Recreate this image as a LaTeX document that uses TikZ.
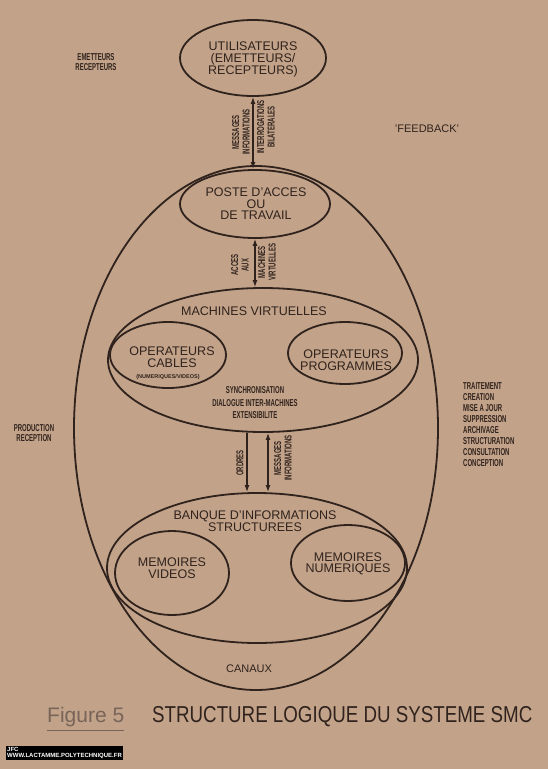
\documentclass[tikz,border=0pt]{standalone}
\usepackage{fontspec}
\setmainfont{Liberation Sans}
\usetikzlibrary{shapes.geometric,arrows.meta,calc}
\definecolor{bg}{RGB}{194,163,138}
\definecolor{ink}{RGB}{48,34,28}
\definecolor{fig}{RGB}{120,100,88}
\newcommand{\cnd}[2][0.6]{\scalebox{#1}[1]{\bfseries #2}}
\begin{document}
\begin{tikzpicture}[x=1pt,y=-1pt,
  >={Latex[length=7pt,width=5pt]},
  oval/.style={ellipse, draw=ink, line width=1.8pt, inner sep=0pt},
  lbl/.style={text=ink, font=\fontsize{12.5}{11.5}\selectfont, align=center, inner sep=0pt},
  cond/.style={text=ink, font=\fontsize{10}{10.5}\selectfont, align=center, inner sep=0pt},
  vcond/.style={cond, rotate=90},
  conn/.style={draw=ink, line width=1.5pt}
]
\fill[bg] (0,0) rectangle (548,769);
\useasboundingbox (0,0) rectangle (548,769);

% ellipses
\node[oval, minimum width=146pt, minimum height=76pt] (util) at (253,58) {};
\node[oval, minimum width=364pt, minimum height=524pt] (outer) at (256,428) {};
\node[oval, minimum width=150pt, minimum height=68pt] (poste) at (255,204) {};
\node[oval, minimum width=310pt, minimum height=144pt] (mach) at (263,360) {};
\node[oval, minimum width=116pt, minimum height=66pt] (opc) at (168,355) {};
\node[oval, minimum width=114pt, minimum height=62pt] (opp) at (345,353) {};
\node[oval, minimum width=300pt, minimum height=150pt] (banq) at (257,568) {};
\node[oval, minimum width=114pt, minimum height=84pt] (memv) at (172,573) {};
\node[oval, minimum width=114pt, minimum height=76pt] (memn) at (348,563) {};

% texts in ellipses
\node[lbl, font=\fontsize{12.5}{12}\selectfont] (tutil) at (253,59) {UTILISATEURS\\(EMETTEURS/\\RECEPTEURS)};
\node[lbl] (tposte) at (256,204) {POSTE D'ACCES\\OU\\DE TRAVAIL};
\node[lbl] (tmach) at (254,311) {MACHINES VIRTUELLES};
\node[lbl] (topc) at (172,357) {OPERATEURS\\CABLES};
\node[text=ink, font=\bfseries\fontsize{5.5}{6}\selectfont, inner sep=0pt] (tnum) at (168,377) {(NUMERIQUES/VIDEOS)};
\node[lbl] (topp) at (346,360) {OPERATEURS\\PROGRAMMES};
\node[cond, font=\fontsize{10}{12.5}\selectfont] (tsync) at (255,403) {\cnd{SYNCHRONISATION}\\\cnd{DIALOGUE INTER-MACHINES}\\\cnd{EXTENSIBILITE}};
\node[lbl] (tbanq) at (255,521) {BANQUE D'INFORMATIONS\\STRUCTUREES};
\node[lbl] (tmemv) at (172,568) {MEMOIRES\\VIDEOS};
\node[lbl] (tmemn) at (348,564) {MEMOIRES\\NUMERIQUES};
\node[lbl, font=\fontsize{11}{12}\selectfont] (tcan) at (249,669) {CANAUX};

% connectors
\draw[conn, <->] (util.south) -- (util.south |- poste.north);
\draw[conn, <->] (poste.south) -- (poste.south |- mach.north);
\draw[conn, ->] ($(mach.south)+(-16,0)$) -- ($(banq.north)+(-10,0)$);
\draw[conn, <->] ($(mach.south)+(5,0)$) -- ($(banq.north)+(11,0)$);

% connector labels
\node[vcond] (l1) at (241,132) {\cnd{MESSAGES}\\\cnd{INFORMATIONS}};
\node[vcond] (l2) at (266,127) {\cnd{INTERROGATIONS}\\\cnd{BILATERALES}};
\node[vcond] (l3) at (240,265) {\cnd{ACCES}\\\cnd{AUX}};
\node[vcond] (l4) at (267,262) {\cnd{MACHINES}\\\cnd{VIRTUELLES}};
\node[vcond] (l5) at (240,463) {\cnd{ORDRES}};
\node[vcond] (l6) at (283,458) {\cnd{MESSAGES}\\\cnd{INFORMATIONS}};

% side labels
\node[cond] (emet) at (96,62) {\cnd{EMETTEURS}\\\cnd{RECEPTEURS}};
\node[text=ink, font=\fontsize{11}{12}\selectfont, inner sep=0pt] (feed) at (427,129) {'FEEDBACK'};
\node[cond] (prod) at (34,433) {\cnd{PRODUCTION}\\\cnd{RECEPTION}};
\node[cond, align=left, anchor=north west, font=\fontsize{10}{11}\selectfont] (list) at (463,382)
  {\cnd{TRAITEMENT}\\\cnd{CREATION}\\\cnd{MISE A JOUR}\\\cnd{SUPPRESSION}\\\cnd{ARCHIVAGE}\\\cnd{STRUCTURATION}\\\cnd{CONSULTATION}\\\cnd{CONCEPTION}};

% caption
\node[text=fig, font=\fontsize{21}{22}\selectfont, inner sep=0pt, anchor=west] (figl) at (47,717) {Figure 5};
\draw[fig, line width=1pt] ($(figl.south west)+(0,4)$) -- ($(figl.south east)+(0,4)$);
\node[text=ink, font=\fontsize{23}{24}\selectfont, inner sep=0pt, anchor=west] (title) at (152,717)
  {\scalebox{0.815}[1]{STRUCTURE LOGIQUE DU SYSTEME SMC}};

% watermark
\node[fill=black, text=white, font=\bfseries\fontsize{6}{6.5}\selectfont, align=left, inner sep=1pt, anchor=north west] (wm) at (6,746)
  {JFC\\WWW.LACTAMME.POLYTECHNIQUE.FR};
\end{tikzpicture}
\end{document}
